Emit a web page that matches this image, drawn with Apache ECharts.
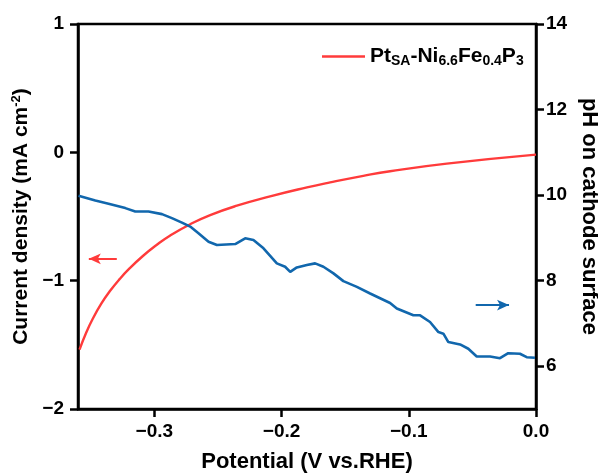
<!DOCTYPE html>
<html>
<head>
<meta charset="utf-8">
<script src="https://cdn.jsdelivr.net/npm/echarts@6/dist/echarts.min.js"></script>
<style>html,body{margin:0;padding:0;background:#fff;}#c{width:598px;height:473px;}</style>
</head>
<body>
<div id="c"></div>
<script>
// ---- data ----
const currentX = [-0.3588, -0.3535, -0.3482, -0.3417, -0.3352, -0.3273, -0.3195, -0.309, -0.2985, -0.2875, -0.2718, -0.2561, -0.2351, -0.209, -0.180, -0.1618, -0.1357, -0.1147, -0.0701, 0.0];
const currentY = [-1.537, -1.404, -1.293, -1.179, -1.085, -0.988, -0.905, -0.808, -0.724, -0.648, -0.560, -0.489, -0.416, -0.343, -0.273, -0.234, -0.183, -0.147, -0.088, -0.018];

const phX = [-0.3596, -0.3464, -0.336, -0.3228, -0.315, -0.3046, -0.294, -0.2862, -0.2783, -0.2718, -0.2653, -0.2574, -0.2508, -0.2364,
  -0.2286, -0.2221, -0.2142, -0.2037, -0.1972, -0.1932, -0.188, -0.1801, -0.1736, -0.1671, -0.1592, -0.1514, -0.1408, -0.1304, -0.1147,
  -0.1094, -0.0964, -0.0911, -0.0833, -0.0767, -0.0728, -0.0689, -0.0597, -0.0532, -0.0466, -0.0361, -0.0283, -0.0218, -0.0126, -0.0073, -0.0008];
const phY = [9.985, 9.874, 9.797, 9.696, 9.616, 9.616, 9.555, 9.461, 9.358, 9.264, 9.109, 8.911, 8.834, 8.857,
  8.991, 8.951, 8.757, 8.404, 8.325, 8.207, 8.310, 8.364, 8.404, 8.325, 8.170, 7.989, 7.855, 7.700, 7.479,
  7.348, 7.190, 7.190, 7.033, 6.798, 6.761, 6.564, 6.510, 6.409, 6.228, 6.228, 6.188, 6.305, 6.291, 6.211, 6.197];

const xTicks = [-0.3, -0.2, -0.1, 0.0];
const leftTicks = [-2, -1, 0, 1];
const rightTicks = [6, 8, 10, 12, 14];

const redArrowX = [-0.3295, -0.3515];
const redArrowY = -0.83;
const blueArrowX = [-0.0474, -0.0212];
const blueArrowY = 7.43;

const seriesName = 'Pt_SA-Ni_6.6Fe_0.4P_3';

// ---- chart ----
const FONT = "'Liberation Sans', Arial, sans-serif";
const minus = s => String(s).replace('-', '\u2212');
const chart = echarts.init(document.getElementById('c'), null, {renderer: 'canvas'});

const axisLineStyle = {color: '#000', width: 2.5};
const labelStyle = {fontFamily: FONT, fontWeight: 'bold', fontSize: 19, color: '#000'};

chart.setOption({
  animation: false,
  backgroundColor: '#fff',
  grid: {left: 78, right: 62, top: 24, bottom: 64, show: true, borderColor: '#000', borderWidth: 2.5,
    containLabel: false, outerBoundsMode: 'none'},
  legend: {
    data: [seriesName],
    left: 317, top: 41,
    icon: 'rect',
    itemWidth: 43, itemHeight: 2.5, itemGap: 10,
    formatter: () => 'Pt{sub|SA}-Ni{sub|6.6}Fe{sub|0.4}P{sub|3}',
    textStyle: {
      fontFamily: FONT, fontWeight: 'bold', fontSize: 21, color: '#000',
      rich: {sub: {fontFamily: FONT, fontWeight: 'bold', fontSize: 14, color: '#000', verticalAlign: 'bottom', padding: [10, 0, 0, 0]}}
    }
  },
  xAxis: {
    type: 'value', min: -0.36, max: 0,
    name: 'Potential (V vs.RHE)', nameLocation: 'middle', nameGap: 42,
    nameTextStyle: {fontFamily: FONT, fontWeight: 'bold', fontSize: 22, color: '#000'},
    axisLine: {show: true, onZero: false, lineStyle: axisLineStyle},
    axisTick: {show: true, inside: false, length: 8, lineStyle: axisLineStyle, customValues: xTicks},
    axisLabel: Object.assign({margin: 13, customValues: xTicks, formatter: v => minus(v.toFixed(1))}, labelStyle),
    splitLine: {show: false}
  },
  yAxis: [{
    type: 'value', min: -2, max: 1, interval: 1, position: 'left',
    name: 'Current density (mA cm{sup|-2})', nameLocation: 'middle', nameGap: 39,
    nameTextStyle: {fontFamily: FONT, fontWeight: 'bold', fontSize: 21, color: '#000',
      rich: {sup: {fontFamily: FONT, fontWeight: 'bold', fontSize: 13, color: '#000', verticalAlign: 'top', padding: [0, 0, 9, 0]}}},
    axisLine: {show: true, onZero: false, lineStyle: axisLineStyle},
    axisTick: {show: true, inside: false, length: 8, lineStyle: axisLineStyle, customValues: leftTicks},
    axisLabel: Object.assign({margin: 14, customValues: leftTicks, formatter: v => minus(v)}, labelStyle),
    splitLine: {show: false}
  }, {
    type: 'value', min: 5, max: 14, position: 'right',
    name: 'pH on cathode surface', nameLocation: 'middle', nameGap: 40, nameRotate: -90,
    nameTextStyle: {fontFamily: FONT, fontWeight: 'bold', fontSize: 22, color: '#000'},
    axisLine: {show: true, onZero: false, lineStyle: axisLineStyle},
    axisTick: {show: true, inside: false, length: 8, lineStyle: axisLineStyle, customValues: rightTicks},
    axisLabel: Object.assign({margin: 10, customValues: rightTicks}, labelStyle),
    splitLine: {show: false}
  }],
  series: [{
    name: seriesName, type: 'line', yAxisIndex: 0,
    data: currentX.map((x, i) => [x, currentY[i]]),
    smooth: 0.5, symbol: 'none', showSymbol: false,
    lineStyle: {color: '#ff3b3b', width: 2.4}, itemStyle: {color: '#ff3b3b'},
    markLine: {
      silent: true, symbol: ['none', 'arrow'], symbolSize: [8, 12],
      label: {show: false},
      lineStyle: {color: '#ff3b3b', width: 2, type: 'solid'},
      data: [[{coord: [redArrowX[0], redArrowY]}, {coord: [redArrowX[1], redArrowY]}]]
    }
  }, {
    name: 'pH', type: 'line', yAxisIndex: 1,
    data: phX.map((x, i) => [x, phY[i]]),
    symbol: 'none', showSymbol: false,
    lineStyle: {color: '#1167ad', width: 2.6}, itemStyle: {color: '#1167ad'},
    markLine: {
      silent: true, symbol: ['none', 'arrow'], symbolSize: [8, 12],
      label: {show: false},
      lineStyle: {color: '#1167ad', width: 2, type: 'solid'},
      data: [[{coord: [blueArrowX[0], blueArrowY]}, {coord: [blueArrowX[1], blueArrowY]}]]
    }
  }]
});
</script>
</body>
</html>
